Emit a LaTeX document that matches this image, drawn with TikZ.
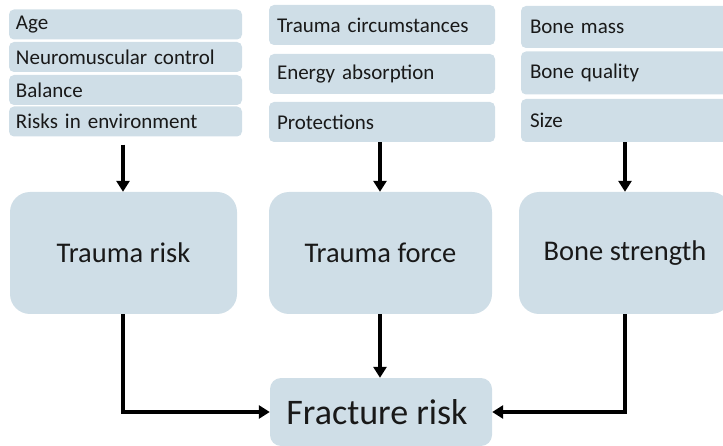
\documentclass[tikz,border=0pt]{standalone}
\usepackage{fontspec}
\setmainfont{Carlito}
\usetikzlibrary{arrows.meta}
\definecolor{boxblue}{RGB}{207,222,231}
\definecolor{ink}{RGB}{25,25,25}
\tikzset{
    factor/.style={fill=boxblue, draw=none, rounded corners=5pt, inner ysep=0pt,
        minimum height=#1, align=left, text=ink, font=\fontsize{21}{23}\selectfont},
    factor/.default=30pt,
    group/.style={fill=boxblue, draw=none, rounded corners=20pt, inner sep=0pt,
        minimum height=122pt, text=ink, font=\fontsize{28.5}{30}\selectfont},
    result/.style={fill=boxblue, draw=none, rounded corners=11pt, inner sep=0pt,
        minimum width=222pt, minimum height=68pt, text=ink, font=\fontsize{36}{38}\selectfont},
    flow/.style={line width=3.6pt, -{Triangle[width=13pt,length=11pt]}},
}

\begin{document}
\begin{tikzpicture}[x=1pt, y=-1pt]
    \useasboundingbox (0, 0) rectangle (723, 446);
    \clip (0, 0) rectangle (723, 446);

    % left column
    \node (age) at (125.5, 24.5) [factor, inner xsep=7pt, text width=219pt] {Age};
    \node (neuro) at (125.5, 57) [factor, inner xsep=7pt, text width=219pt] {Neuromuscular control};
    \node (balance) at (125.5, 90) [factor, inner xsep=7pt, text width=219pt] {Balance};
    \node (envrisk) at (125.5, 121.5) [factor, inner xsep=7pt, text width=219pt] {Risks in environment};

    % middle column
    \node (circ) at (382, 25) [factor=40pt, inner xsep=8pt, text width=210pt] {Trauma circumstances};
    \node (energy) at (382, 74) [factor=40pt, inner xsep=8pt, text width=210pt] {Energy absorption};
    \node (protect) at (382, 122) [factor=40pt, inner xsep=8pt, text width=210pt] {Protections};

    % right column
    \node (mass) at (626, 27) [factor=42pt, inner xsep=9pt, text width=192pt] {Bone mass};
    \node (quality) at (626, 73) [factor=43pt, inner xsep=9pt, text width=192pt] {Bone quality};
    \node (size) at (626, 120.5) [factor=43pt, inner xsep=9pt, text width=192pt] {Size};

    \node (trisk) at (123.5, 253) [group, minimum width=227pt] {Trauma risk};
    \node (tforce) at (380.5, 253) [group, minimum width=223pt] {Trauma force};
    \node (strength) at (625, 253) [group, minimum width=212pt] {Bone strength};

    \node (fracture) at (381, 412) [result] {\hspace*{-8pt}Fracture risk};

    \draw [flow] (envrisk.south -| 123, 0) ++(0, 8) -- (trisk.north -| 123, 0);
    \draw [flow] (protect.south -| 380, 0) -- (tforce.north -| 380, 0);
    \draw [flow] (size.south -| 625, 0) -- (strength.north -| 625, 0);

    \draw [flow] (trisk.south -| 123, 0) |- (fracture.west);
    \draw [flow] (tforce.south -| 380, 0) -- (fracture.north -| 380, 0);
    \draw [flow] (strength.south -| 625, 0) |- (fracture.east);
\end{tikzpicture}
\end{document}
